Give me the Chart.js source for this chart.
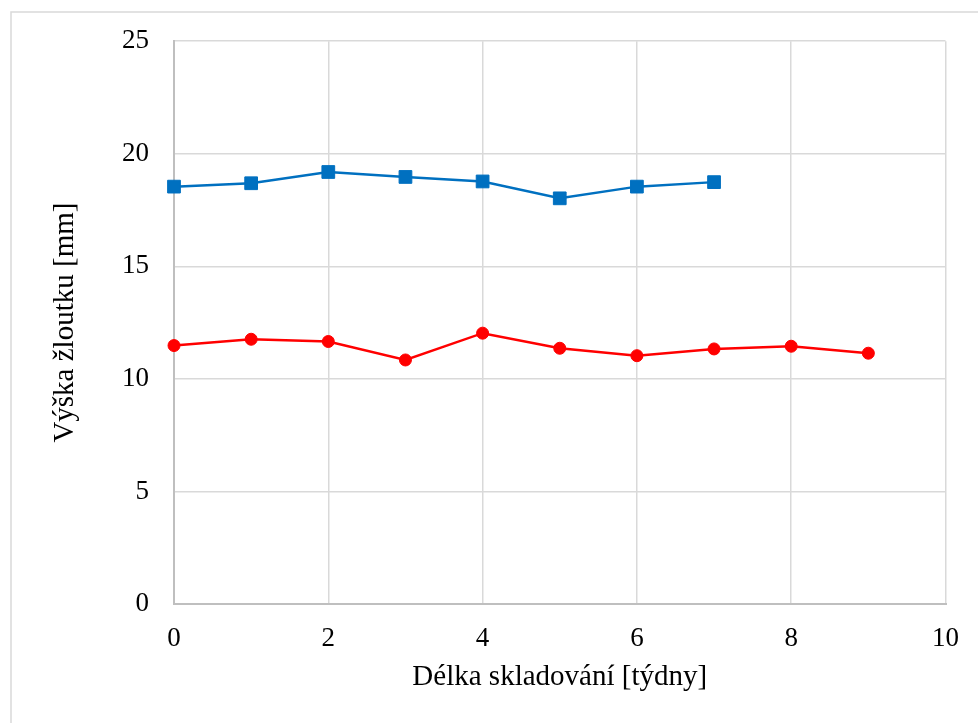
<!DOCTYPE html>
<html>
<head>
<meta charset="utf-8">
<script src="https://cdn.jsdelivr.net/npm/chart.js@4/dist/chart.umd.min.js"></script>
<style>
  html, body { margin: 0; padding: 0; background: #ffffff; }
  #wrap { width: 978px; height: 723px; position: relative; }
</style>
</head>
<body>
<div id="wrap"><canvas id="chart" width="978" height="723"></canvas></div>
<script>
// Storage time in weeks
const weeksBlue = [0, 1, 2, 3, 4, 5, 6, 7];
const weeksRed = [0, 1, 2, 3, 4, 5, 6, 7, 8, 9];
// Yolk height [mm]
const yolkBlue = [18.54, 18.69, 19.19, 18.97, 18.77, 18.02, 18.54, 18.74];
const yolkRed = [11.48, 11.76, 11.66, 10.84, 12.03, 11.36, 11.03, 11.33, 11.45, 11.14];
// Axis ticks
const xTicks = [0, 2, 4, 6, 8, 10];
const yTicks = [0, 5, 10, 15, 20, 25];

const xTitle = 'Délka skladování [týdny]';
const yTitle = 'Výška žloutku [mm]';

const toPoints = (xs, ys) => xs.map((x, i) => ({ x: x, y: ys[i] }));

// Thin frame on the top and left edges of the figure
const framePlugin = {
  id: 'frame',
  beforeDraw(chart) {
    const ctx = chart.ctx;
    ctx.save();
    ctx.fillStyle = '#ffffff';
    ctx.fillRect(0, 0, chart.width, chart.height);
    ctx.strokeStyle = '#d9d9d9';
    ctx.lineWidth = 1.5;
    ctx.beginPath();
    ctx.moveTo(11, chart.height);
    ctx.lineTo(11, 12);
    ctx.lineTo(chart.width, 12);
    ctx.stroke();
    ctx.restore();
  }
};

const serif = 'Liberation Serif, Times New Roman, serif';

new Chart(document.getElementById('chart'), {
  type: 'scatter',
  data: {
    datasets: [
      {
        data: toPoints(weeksBlue, yolkBlue),
        showLine: true,
        clip: false,
        borderColor: '#0070C0',
        backgroundColor: '#0070C0',
        borderWidth: 2.5,
        pointStyle: 'rect',
        pointRadius: 9,
        pointBorderWidth: 1,
        pointBorderColor: '#0070C0',
        pointBackgroundColor: '#0070C0',
        tension: 0
      },
      {
        data: toPoints(weeksRed, yolkRed),
        showLine: true,
        clip: false,
        borderColor: '#FF0000',
        backgroundColor: '#FF0000',
        borderWidth: 2.5,
        pointStyle: 'circle',
        pointRadius: 6,
        pointBorderWidth: 1,
        pointBorderColor: '#FF0000',
        pointBackgroundColor: '#FF0000',
        tension: 0
      }
    ]
  },
  options: {
    responsive: false,
    animation: false,
    devicePixelRatio: 1,
    layout: { padding: { left: 0, top: 41, right: 31, bottom: 0 } },
    plugins: {
      legend: { display: false },
      tooltip: { enabled: false }
    },
    scales: {
      x: {
        type: 'linear',
        min: 0,
        max: 10,
        afterFit(scale) { scale.height = 119; },
        afterBuildTicks(scale) { scale.ticks = xTicks.map(v => ({ value: v })); },
        grid: {
          color: (c) => c.tick && c.tick.value === 0 ? '#bfbfbf' : '#d9d9d9',
          lineWidth: (c) => c.tick && c.tick.value === 0 ? 2 : 1.5,
          drawTicks: false
        },
        border: { display: true, color: '#bfbfbf', width: 2 },
        ticks: {
          padding: 19,
          color: '#000000',
          maxRotation: 0,
          font: { family: serif, size: 27 }
        },
        title: {
          display: true,
          text: xTitle,
          color: '#000000',
          font: { family: serif, size: 29 },
          padding: { top: 0, bottom: 28 }
        }
      },
      y: {
        type: 'linear',
        min: 0,
        max: 25,
        afterFit(scale) { scale.width = 174; },
        afterBuildTicks(scale) { scale.ticks = yTicks.map(v => ({ value: v })); },
        grid: {
          color: (c) => c.tick && c.tick.value === 0 ? '#bfbfbf' : '#d9d9d9',
          lineWidth: (c) => c.tick && c.tick.value === 0 ? 2 : 1.5,
          drawTicks: false
        },
        border: { display: true, color: '#bfbfbf', width: 2 },
        ticks: {
          padding: 25,
          color: '#000000',
          font: { family: serif, size: 27 }
        },
        title: {
          display: true,
          text: yTitle,
          color: '#000000',
          font: { family: serif, size: 29 },
          padding: { top: 48, bottom: 0 }
        }
      }
    }
  },
  plugins: [framePlugin]
});
</script>
</body>
</html>
